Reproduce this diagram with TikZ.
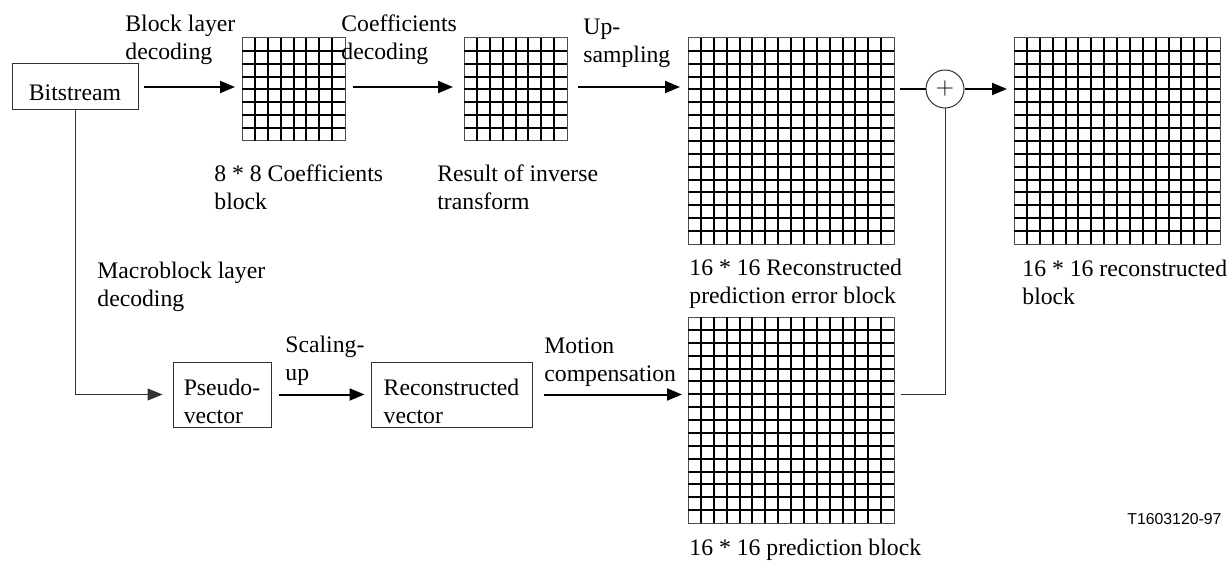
\documentclass[tikz,border=0pt]{standalone}
\usepackage{fontspec}
\setmainfont{Liberation Serif}
\newfontfamily\tagfont{Liberation Sans}
\usepackage{tikz}
\usetikzlibrary{arrows.meta,positioning,calc}

% one block of n x n cells, top-left corner at (#2,#3)
\newcommand{\blockgrid}[4]{%
  \node[gridbox, minimum size=#4*6.4375pt, anchor=north west] (#1) at (#2,#3) {};
  \pgfmathtruncatemacro\gridlast{#4-1}
  \foreach \k in {1,...,\gridlast}{
    \draw[gridline] (#1.north west) ++(\k*12.875,0) -- ++(0,#4*12.875);
    \draw[gridline] (#1.north west) ++(0,\k*12.875) -- ++(#4*12.875,0);
  }%
}

\begin{document}
\begin{tikzpicture}[x=0.5pt,y=-0.5pt,
    font=\fontsize{11.85}{13.75}\selectfont,
    procbox/.style={draw=black!80, line width=0.5pt, inner xsep=0pt, inner ysep=0pt,
      align=left, text height=30.5pt, text depth=2pt},
    gridbox/.style={draw=black!70, line width=0.5pt, inner sep=0pt, outer sep=0pt},
    gridline/.style={line width=1pt},
    sumnode/.style={draw=black!80, line width=0.5pt, circle, minimum size=19pt, inner sep=0pt},
    caption/.style={anchor=base west, align=left, inner sep=0pt},
    flow/.style={line width=1pt, -{Triangle[length=7.5pt,width=6pt]}},
    thinflow/.style={line width=0.5pt, draw=black!80, -{Triangle[length=7.5pt,width=6pt]}},
    link/.style={line width=0.5pt, draw=black!80}]
  \useasboundingbox (0,0) rectangle (1229,561);

  % top row
  \node[procbox, minimum width=63pt, text height=18.5pt, text depth=4.5pt] (bits) at (75,87) {Bitstream};
  \blockgrid{coef}{242}{38}{8}
  \blockgrid{inv}{464}{38}{8}
  \blockgrid{err}{688}{38}{16}
  \node[sumnode] (sum) at (945,89) {$+$};
  \blockgrid{rec}{1014}{38}{16}

  % bottom row
  \node[procbox, minimum width=49pt] (pseudo) at (222,394.5) {Pseudo-\\vector};
  \node[procbox, minimum width=80.5pt] (rvec) at (451.5,394.5) {Reconstructed\\vector};
  \blockgrid{pred}{688}{317}{16}

  % connectors
  \draw[flow, shorten <=2.5pt, shorten >=3.5pt] (bits.east) -- (bits.east -| coef.west);
  \draw[flow, shorten <=4pt, shorten >=5.5pt] (coef.east |- bits.east) -- (inv.west |- bits.east);
  \draw[flow, shorten <=5.5pt, shorten >=4pt] (inv.east |- bits.east) -- (err.west |- bits.east);
  \draw[line width=1pt, shorten <=3pt] (err.east |- sum.west) -- (sum.west);
  \draw[flow, shorten >=3.5pt] (sum.east) -- (sum.east -| rec.west);
  \draw[thinflow, shorten >=5pt] (bits.south) |- (pseudo.west);
  \draw[flow, shorten <=3.5pt, shorten >=3pt] (pseudo.east) -- (rvec.west);
  \draw[flow, shorten <=5.5pt, shorten >=3pt] (rvec.east) -- (rvec.east -| pred.west);
  \draw[link, shorten <=3.5pt] (pred.east |- rvec.east) -| (sum.south);

  % labels (base = last line)
  \node[caption] (lblblock) at (125,59.5) {Block layer\\decoding};
  \node[caption] (lblcoef) at (341,59.5) {Coefficients\\decoding};
  \node[caption] (lblup) at (583,62.5) {Up-\\sampling};
  \node[caption] (capcoef) at (214,209) {8 * 8 Coefficients\\block};
  \node[caption] (capinv) at (437,209) {Result of inverse\\transform};
  \node[caption] (caperr) at (689,303) {16 * 16 Reconstructed\\prediction error block};
  \node[caption] (caprec) at (1022,304) {16 * 16 reconstructed\\block};
  \node[caption] (lblmacro) at (97,306) {Macroblock layer\\decoding};
  \node[caption] (lblscale) at (285,380) {Scaling-\\up};
  \node[caption] (lblmotion) at (544,381) {Motion\\compensation};
  \node[caption] (cappred) at (689,555) {16 * 16 prediction block};
  \node[caption, font=\tagfont\fontsize{7.9}{9.5}\selectfont] (tag) at (1127,524) {T1603120-97};
\end{tikzpicture}
\end{document}
